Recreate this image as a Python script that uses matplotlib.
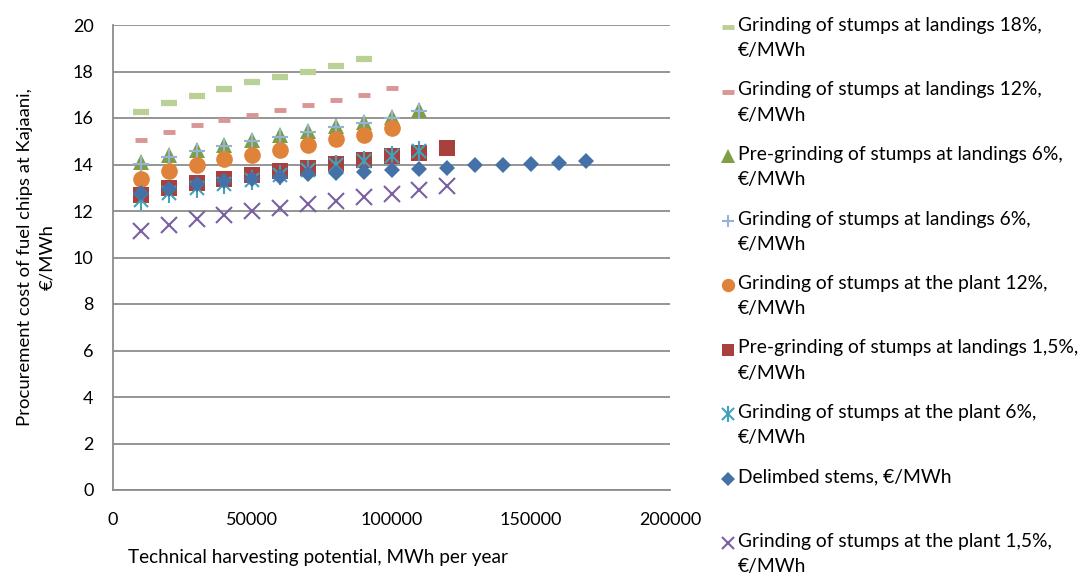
import numpy as np
from matplotlib import pyplot as plt
from matplotlib.lines import Line2D

plt.rcParams['font.family'] = ['Lato', 'DejaVu Sans']

# x values (MWh per year)
x9 = [10000, 20000, 30000, 40000, 50000, 60000, 70000, 80000, 90000]
x10 = x9 + [100000]
x11 = x10 + [110000]
x12 = x11 + [120000]
x17 = x12 + [130000, 140000, 150000, 160000, 170000]

land18 = [16.25, 16.65, 16.95, 17.25, 17.55, 17.75, 18.0, 18.25, 18.55]
land12 = [15.07, 15.4, 15.69, 15.92, 16.12, 16.34, 16.55, 16.78, 17.01, 17.28]
pre_land6 = [14.1, 14.4, 14.64, 14.86, 15.07, 15.26, 15.45, 15.65, 15.83, 16.05, 16.35]
land6 = [14.02, 14.32, 14.58, 14.8, 15.0, 15.2, 15.4, 15.6, 15.78, 16.0, 16.28]
plant12 = [13.36, 13.71, 13.97, 14.22, 14.42, 14.64, 14.86, 15.09, 15.29, 15.55]
pre_land15 = [12.67, 12.99, 13.2, 13.36, 13.56, 13.72, 13.87, 14.04, 14.18, 14.35, 14.51, 14.71]
plant6 = [12.46, 12.77, 12.99, 13.18, 13.35, 13.53, 13.75, 13.97, 14.15, 14.35, 14.57]
delimbed = [12.77, 12.96, 13.15, 13.28, 13.39, 13.46, 13.58, 13.63, 13.68, 13.75, 13.8,
            13.85, 13.97, 14.0, 14.04, 14.08, 14.15]
plant15 = [11.16, 11.41, 11.64, 11.84, 11.98, 12.13, 12.28, 12.43, 12.6, 12.74, 12.89, 13.07]

labels = [
    'Grinding of stumps at landings 18%,\n€/MWh',
    'Grinding of stumps at landings 12%,\n€/MWh',
    'Pre-grinding of stumps at landings 6%,\n€/MWh',
    'Grinding of stumps at landings 6%,\n€/MWh',
    'Grinding of stumps at the plant 12%,\n€/MWh',
    'Pre-grinding of stumps at landings 1,5%,\n€/MWh',
    'Grinding of stumps at the plant 6%,\n€/MWh',
    'Delimbed stems, €/MWh',
    'Grinding of stumps at the plant 1,5%,\n€/MWh',
]

# (x, y, list of marker styles)
series = [
    (x9, land18, [dict(marker='_', ms=12, mew=4.5, color='#B9D097')]),
    (x10, land12, [dict(marker='_', ms=8, mew=3.5, color='#D99694')]),
    (x11, pre_land6, [dict(marker='^', ms=12, color='#7F9E45', mew=0)]),
    (x11, land6, [dict(marker='+', ms=11, mew=1.5, color='#95B3D7')]),
    (x10, plant12, [dict(marker='o', ms=12, color='#E0833A', mew=0)]),
    (x12, pre_land15, [dict(marker='s', ms=11, color='#A8403D', mew=0)]),
    (x11, plant6, [dict(marker='x', ms=10, mew=1.5, color='#3FA3BC'),
                   dict(marker='|', ms=14, mew=1.5, color='#3FA3BC')]),
    (x17, delimbed, [dict(marker='D', ms=8.5, color='#4472A8', mew=0)]),
    (x12, plant15, [dict(marker='x', ms=11, mew=1.5, color='#7B5FA0')]),
]

fig = plt.figure(figsize=(10.86, 5.79), dpi=100)
ax = fig.add_axes([113 / 1086, 1 - 490 / 579, 557 / 1086, 465 / 579])

for i, (xs, ys, styles) in enumerate(series):
    for st in styles:
        ax.plot(xs, ys, linestyle='none', zorder=3 + i, clip_on=False, **st)

ax.set_xlim(0, 200000)
ax.set_ylim(0, 20)
ax.set_xticks(np.arange(0, 200001, 50000))
ax.set_yticks(np.arange(0, 21, 2))
ax.yaxis.grid(True, color='#8C8C8C', linewidth=1.3)
ax.set_axisbelow(True)
for s in ['top', 'right']:
    ax.spines[s].set_visible(False)
for s in ['left', 'bottom']:
    ax.spines[s].set_color('#8C8C8C')
    ax.spines[s].set_linewidth(1.3)
ax.tick_params(length=0, labelsize=13, colors='#000000')
ax.tick_params(axis='y', pad=14)
ax.tick_params(axis='x', pad=16)

fig.text(36 / 1086, 1 - 257 / 579, 'Procurement cost of fuel chips at Kajaani,\n€/MWh',
         rotation=90, ha='center', va='center', fontsize=13.3, linespacing=1.45)
fig.text(318 / 1086, 1 - 558 / 579, 'Technical harvesting potential, MWh per year',
         ha='center', va='center', fontsize=13.7)

# legend drawn by hand so the marker sits on the first text line
for i, (lab, (xs, ys, styles)) in enumerate(zip(labels, series)):
    yl = 27 + i * 64.5
    for st in styles:
        st2 = dict(st)
        st2['ms'] = st2['ms'] * 0.8
        if st2['marker'] == '_':
            st2['ms'] = 9
            st2['mew'] = 3.5
        fig.add_artist(Line2D([728 / 1086], [1 - yl / 579], linestyle='none',
                              transform=fig.transFigure, **st2))
    fig.text(738 / 1086, 1 - (yl - 10) / 579, lab, ha='left', va='top',
             fontsize=13.9, linespacing=1.6)

fig.savefig('out.png', dpi=100)
